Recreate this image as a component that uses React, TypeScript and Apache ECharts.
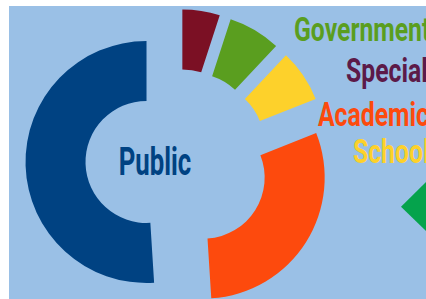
import React, { useEffect, useRef } from "react";
import * as echarts from "echarts";

// Slices, clockwise from the top
const categories = ["Special", "Government", "School", "Academic", "Public"];
const values = [5, 7, 7, 30, 51];
const sliceColors = ["#7b1024", "#5a9e1f", "#fdd12b", "#fd4a0d", "#004282"];

// Labels at the right side
const labelNames = ["Government", "Special", "Academic", "School"];
const labelColors = ["#5a9e1f", "#5c1a48", "#fd4a0d", "#fdd12b"];

export default function App() {
  const ref = useRef<HTMLDivElement>(null);
  useEffect(() => {
    if (!ref.current) return;
    const chart = echarts.init(ref.current, undefined, { renderer: "svg" });
    const labelPos = [
      { x: 285, y: 24 },
      { x: 337, y: 64.5 },
      { x: 309, y: 109 },
      { x: 344, y: 146 },
    ];
    const graphic: any[] = labelNames.map((name, i) => ({
      type: "text",
      x: labelPos[i].x,
      y: labelPos[i].y,
      scaleX: 0.75,
      style: {
        text: name,
        fill: labelColors[i],
        font: "bold 33px Roboto",
        align: "left",
        verticalAlign: "middle",
      },
    }));
    graphic.push({
      type: "text",
      x: 146,
      y: 155,
      scaleX: 0.66,
      style: {
        text: categories[4],
        fill: sliceColors[4],
        font: "bold 39px Roboto",
        align: "center",
        verticalAlign: "middle",
      },
    });
    graphic.push({
      type: "polygon",
      shape: {
        points: [
          [392, 200.7],
          [420, 173],
          [448, 200.7],
          [420, 228],
        ],
      },
      style: { fill: "#05a34c" },
    });
    chart.setOption({
      animation: false,
      backgroundColor: "#9ac0e6",
      series: [
        {
          type: "pie",
          center: [168.5, 155],
          radius: [61, 121],
          startAngle: 90,
          clockwise: true,
          selectedMode: "multiple",
          selectedOffset: 31,
          avoidLabelOverlap: false,
          label: { show: false },
          labelLine: { show: false },
          emphasis: { disabled: true },
          data: categories.map((name, i) => ({
            name,
            value: values[i],
            selected: true,
            itemStyle: { color: sliceColors[i], borderWidth: 0 },
            select: { itemStyle: { color: sliceColors[i], borderWidth: 0 } },
          })),
        },
      ],
      graphic,
    });
    return () => chart.dispose();
  }, []);
  return (
    <div
      ref={ref}
      style={{ position: "absolute", left: 9, top: 6, width: 417, height: 293 }}
    />
  );
}
